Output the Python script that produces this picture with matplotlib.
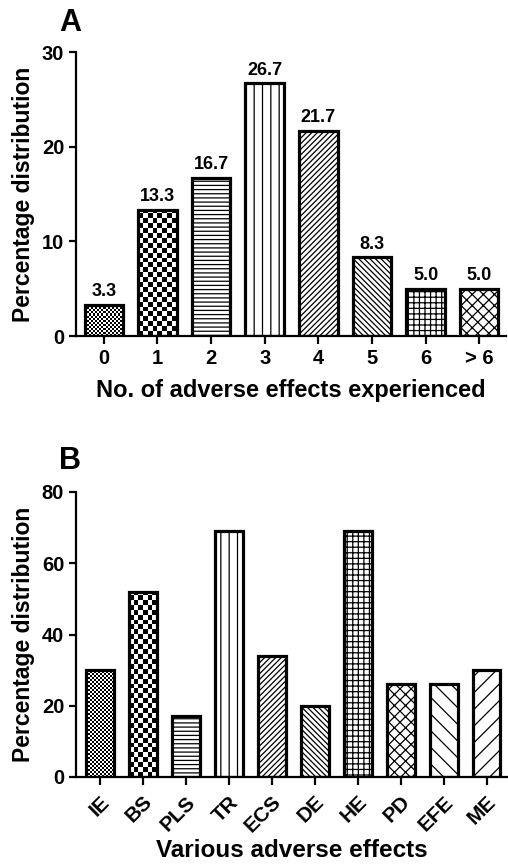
import matplotlib
matplotlib.use('Agg')
import matplotlib.pyplot as plt
import numpy as np

plt.rcParams['font.family'] = ['Liberation Sans', 'DejaVu Sans']
plt.rcParams['font.weight'] = 'bold'
plt.rcParams['axes.labelweight'] = 'bold'
plt.rcParams['hatch.linewidth'] = 0.9

# panel A: number of adverse effects per patient
counts_labels = ['0', '1', '2', '3', '4', '5', '6', '> 6']
counts_pct = [3.3, 13.3, 16.7, 26.7, 21.7, 8.3, 5.0, 5.0]
counts_hatch = ['fine', 'checker', '----', '||', '//////', '\\\\\\\\\\\\', '+++', 'xxx']

# panel B: type of adverse effect
effects = ['IE', 'BS', 'PLS', 'TR', 'ECS', 'DE', 'HE', 'PD', 'EFE', 'ME']
effects_pct = [30, 52, 17, 69, 34, 20, 69, 26, 26, 30]
effects_hatch = ['fine', 'checker', '----', '||', '//////', '\\\\\\\\\\\\', '+++', 'xxx', '\\\\', '//']


def checker_fill(ax, bar, cell_px):
    # draw a black/white checkerboard inside a bar
    (x0, y0), (x1, y1) = ax.transData.transform(
        [(bar.get_x(), bar.get_y()), (bar.get_x() + bar.get_width(), bar.get_y() + bar.get_height())])
    nx = max(1, int(round((x1 - x0) / cell_px)))
    ny = max(1, int(round((y1 - y0) / cell_px)))
    board = (np.add.outer(np.arange(ny), np.arange(nx)) % 2).astype(float)
    ext_top = bar.get_y() + bar.get_height() * (ny * cell_px) / (y1 - y0)
    im = ax.imshow(board, cmap='gray', extent=(bar.get_x(), bar.get_x() + bar.get_width(), bar.get_y(), ext_top),
                   origin='lower', aspect='auto', interpolation='nearest', zorder=2.5)
    im.set_clip_path(bar)


def draw_panel(ax, labels, values, hatches, width, ymax, step):
    x = np.arange(len(values))
    left = -0.56 if len(values) > 8 else -0.52
    ax.set_xlim(left, len(values) - 0.5)
    ax.set_ylim(0, ymax)
    bars = ax.bar(x, values, width=width, color='white', edgecolor='black', linewidth=0, zorder=2)
    for b, h in zip(bars, hatches):
        if h == 'checker':
            checker_fill(ax, b, 4.9)
        elif h == 'fine':
            checker_fill(ax, b, 2.0)
        else:
            b.set_hatch(h)
    ax.bar(x, values, width=width, fill=False, edgecolor='black', linewidth=2.3, zorder=3)
    ax.set_xlim(left, len(values) - 0.5)
    ax.set_ylim(0, ymax)
    ax.set_yticks(np.arange(0, ymax + 1, step))
    ax.set_xticks(x)
    ax.set_xticklabels(labels)
    for s in ['top', 'right']:
        ax.spines[s].set_visible(False)
    for s in ['left', 'bottom']:
        ax.spines[s].set_linewidth(1.6)
    ax.tick_params(width=1.6, length=5, labelsize=14.5)
    ax.tick_params(axis='x', length=6)
    ax.set_ylabel('Percentage distribution', fontsize=16.5, labelpad=5)
    return bars


fig = plt.figure(figsize=(5.08, 8.66), dpi=100)

axA = fig.add_axes([76 / 508, 1 - 336 / 866, 430 / 508, 284 / 866])
barsA = draw_panel(axA, counts_labels, counts_pct, counts_hatch, 0.72, 30, 10)
for b, v in zip(barsA, counts_pct):
    axA.text(b.get_x() + b.get_width() / 2, v + 0.5, f'{v:.1f}', ha='center', va='bottom', fontsize=13)
axA.set_xlabel('No. of adverse effects experienced', fontsize=17, labelpad=8)
fig.text(59 / 508, 1 - 31 / 866, 'A', fontsize=22)

axB = fig.add_axes([76 / 508, 1 - 777 / 866, 432 / 508, 285 / 866])
draw_panel(axB, effects, effects_pct, effects_hatch, 0.65, 80, 20)
axB.tick_params(axis='x', pad=5)
plt.setp(axB.get_xticklabels(), rotation=45, ha='right', rotation_mode='anchor', fontsize=15)
axB.set_xlabel('Various adverse effects', fontsize=17.5, labelpad=2)
fig.text(59 / 508, 1 - 469 / 866, 'B', fontsize=22)

fig.savefig('out.png', dpi=100)
